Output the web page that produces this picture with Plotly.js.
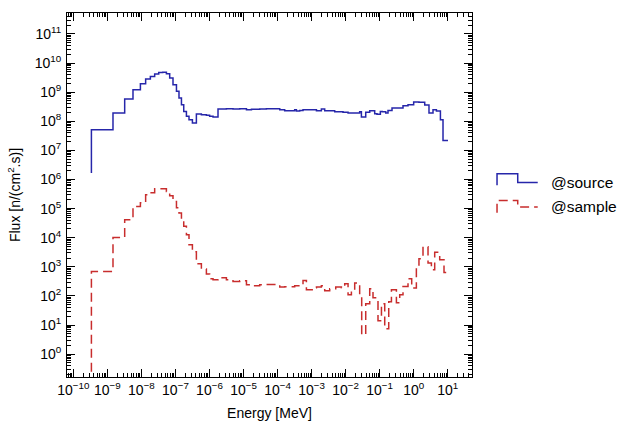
<!DOCTYPE html>
<html>
<head>
<meta charset="utf-8">
<script src="https://cdn.plot.ly/plotly-3.0.1.min.js"></script>
<style>html,body{margin:0;padding:0;background:#fff;}#chart{width:624px;height:423px;}</style>
</head>
<body>
<div id="chart"></div>
<script>
// Bin edges (MeV) and flux values (n/(cm^2.s)) per bin
const sourceEdges = [3.39e-10, 1.46e-9, 3.22e-9, 5.65e-9, 9.33e-9, 1.33e-8, 1.83e-8, 2.45e-8, 3.22e-8, 4.22e-8,
  5.42e-8, 6.77e-8, 8.47e-8, 1.07e-7, 1.27e-7, 1.50e-7, 1.75e-7, 2.10e-7, 2.50e-7, 3.15e-7,
  4.12e-7, 5.78e-7, 8.11e-7, 1.01e-6, 1.27e-6, 1.78e-6, 3.14e-6, 4.91e-6, 7.72e-6, 1.22e-5,
  1.71e-5, 2.99e-5, 4.70e-5, 1.16e-4, 1.62e-4, 3.19e-4, 3.58e-4, 4.48e-4, 5.60e-4, 1.39e-3,
  1.94e-3, 2.43e-3, 4.78e-3, 8.38e-3, 1.18e-2, 2.59e-2, 2.91e-2, 3.90e-2, 5.11e-2, 7.16e-2,
  8.37e-2, 0.105, 0.120, 0.151, 0.176, 0.231, 0.486, 0.682, 1.00, 1.43,
  2.11, 2.82, 3.70, 4.66, 6.11, 7.28, 10.2];
const sourceFlux = [5.15e7, 1.93e8, 5.84e8, 1.22e9, 1.96e9, 2.84e9, 3.49e9, 4.22e9, 4.79e9, 4.85e9,
  4.32e9, 3.08e9, 1.81e9, 1.07e9, 6.32e8, 3.72e8, 2.19e8, 1.48e8, 1.14e8, 8.75e7,
  1.78e8, 1.69e8, 1.60e8, 1.48e8, 1.41e8, 2.65e8, 2.71e8, 2.65e8, 2.71e8, 2.51e8,
  2.61e8, 2.65e8, 2.71e8, 2.51e8, 2.32e8, 2.51e8, 2.26e8, 2.37e8, 2.51e8, 2.32e8,
  2.65e8, 2.32e8, 2.14e8, 2.03e8, 1.93e8, 2.14e8, 1.41e8, 2.03e8, 2.32e8, 1.83e8,
  1.73e8, 2.19e8, 2.14e8, 1.93e8, 2.37e8, 2.87e8, 3.44e8, 3.72e8, 4.61e8, 4.47e8,
  3.64e8, 1.93e8, 2.51e8, 2.26e8, 1.14e8, 2.21e7];
const sourceStart = 1.68e6;

const sampleEdges = [3.39e-10, 1.46e-9, 3.22e-9, 5.65e-9, 9.33e-9, 1.33e-8, 1.83e-8, 2.45e-8, 3.22e-8, 4.22e-8,
  5.42e-8, 6.77e-8, 8.47e-8, 1.07e-7, 1.27e-7, 1.50e-7, 1.75e-7, 2.10e-7, 2.50e-7, 3.15e-7,
  4.12e-7, 5.78e-7, 8.11e-7, 1.01e-6, 1.27e-6, 1.78e-6, 3.14e-6, 4.91e-6, 7.72e-6, 1.22e-5,
  1.71e-5, 2.99e-5, 4.70e-5, 1.16e-4, 1.62e-4, 3.19e-4, 5.60e-4, 7.05e-4, 1.10e-3, 1.39e-3,
  1.94e-3, 2.43e-3, 3.41e-3, 5.12e-3, 7.52e-3, 9.41e-3, 1.18e-2, 1.48e-2, 1.85e-2, 2.59e-2,
  2.97e-2, 3.90e-2, 5.11e-2, 6.38e-2, 8.95e-2, 0.113, 0.141, 0.185, 0.222, 0.311,
  0.389, 0.486, 0.682, 0.875, 1.20, 1.43, 1.88, 2.64, 3.32, 4.15,
  5.82, 7.79, 10.2];
const sampleFlux = [699, 1.03e4, 4.17e4, 1.19e5, 1.60e5, 3.01e5, 3.53e5, 4.84e5, 4.84e5, 4.84e5,
  3.91e5, 2.79e5, 1.77e5, 1.08e5, 7.09e4, 4.17e4, 2.46e4, 1.27e4, 5.77e3, 3.32e3,
  1.28e3, 845, 569, 392, 362, 425, 362, 317, 335, 244,
  225, 244, 250, 203, 208, 225, 343, 164, 192, 203,
  225, 152, 178, 203, 192, 264, 111, 164, 279, 111,
  4.68, 54.3, 178, 87.3, 14.2, 54.3, 7.52, 63.6, 164, 58.8,
  111, 213, 392, 188, 915, 1.91e3, 4.93e3, 1.36e3, 800, 3.19e3,
  1.76e3, 646];
const sampleStart = 0.25;

const xTickVals = [1e-10, 1e-9, 1e-8, 1e-7, 1e-6, 1e-5, 1e-4, 1e-3, 1e-2, 1e-1, 1e0, 1e1];
const xTickText = ["10<sup>\u221210</sup>", "10<sup>\u22129</sup>", "10<sup>\u22128</sup>", "10<sup>\u22127</sup>",
  "10<sup>\u22126</sup>", "10<sup>\u22125</sup>", "10<sup>\u22124</sup>", "10<sup>\u22123</sup>",
  "10<sup>\u22122</sup>", "10<sup>\u22121</sup>", "10<sup>0</sup>", "10<sup>1</sup>"];
const yTickVals = [1e0, 1e1, 1e2, 1e3, 1e4, 1e5, 1e6, 1e7, 1e8, 1e9, 1e10, 1e11];
const yTickText = ["10<sup>0</sup>", "10<sup>1</sup>", "10<sup>2</sup>", "10<sup>3</sup>", "10<sup>4</sup>",
  "10<sup>5</sup>", "10<sup>6</sup>", "10<sup>7</sup>", "10<sup>8</sup>", "10<sup>9</sup>",
  "10<sup>10</sup>", "10<sup>11</sup>"];

function stepXY(edges, vals, start) {
  const x = [edges[0]], y = [start];
  for (let i = 0; i < vals.length; i++) { x.push(edges[i]); y.push(vals[i]); }
  x.push(edges[edges.length - 1]); y.push(vals[vals.length - 1]);
  return {x, y};
}
function minorTicks(lo, hi) {
  const out = [];
  for (let d = lo; d <= hi; d++) for (let m = 2; m <= 9; m++) out.push(m * Math.pow(10, d));
  return out;
}

const s = stepXY(sourceEdges, sourceFlux, sourceStart);
const r = stepXY(sampleEdges, sampleFlux, sampleStart);
const blue = 'rgb(38,38,170)';
const red = 'rgb(200,45,45)';
const font = 'Liberation Sans, Arial, Helvetica, sans-serif';

const traces = [
  {x: s.x, y: s.y, type: 'scatter', mode: 'lines', name: '@source',
   line: {shape: 'hv', color: blue, width: 1.5}, showlegend: false},
  {x: r.x, y: r.y, type: 'scatter', mode: 'lines', name: '@sample',
   line: {shape: 'hv', color: red, width: 1.5, dash: '9px,5px'}, showlegend: false}
];

const axisCommon = {
  type: 'log', ticks: 'inside', ticklen: 8, tickwidth: 1, tickcolor: '#000',
  showline: true, linecolor: '#000', linewidth: 1, mirror: 'allticks',
  showgrid: false, zeroline: false, tickmode: 'array',
  tickfont: {family: font, size: 14, color: '#000'}
};

const layout = {
  width: 624, height: 423,
  margin: {l: 67, r: 152, t: 13, b: 46, autoexpand: false},
  paper_bgcolor: '#fff', plot_bgcolor: '#fff',
  font: {family: font, color: '#000'},
  xaxis: Object.assign({}, axisCommon, {
    range: [-10.187, 1.714], tickvals: xTickVals, ticktext: xTickText,
    minor: {tickvals: minorTicks(-11, 1), ticks: 'inside', ticklen: 4, tickcolor: '#000', tickwidth: 1, showgrid: false},
    title: {text: 'Energy [MeV]', font: {family: font, size: 14}, standoff: 11}
  }),
  yaxis: Object.assign({}, axisCommon, {
    range: [-0.783, 11.72], tickvals: yTickVals, ticktext: yTickText,
    ticklabelstandoff: 2,
    minor: {tickvals: minorTicks(-1, 11), ticks: 'inside', ticklen: 4, tickcolor: '#000', tickwidth: 1, showgrid: false},
    title: {text: 'Flux [n/(cm<sup>2</sup>.s)]', font: {family: font, size: 14}, standoff: 10}
  }),
  shapes: [
    {type: 'path', xref: 'paper', yref: 'paper',
     path: 'M 1.0618 0.5269 L 1.0618 0.5585 L 1.1129 0.5585 L 1.1129 0.5346 L 1.1623 0.5346',
     line: {color: blue, width: 1.5}},
    {type: 'path', xref: 'paper', yref: 'paper',
     path: 'M 1.0618 0.4514 L 1.0618 0.4852 L 1.1129 0.4852 L 1.1129 0.4670 L 1.1623 0.4670',
     line: {color: red, width: 1.5, dash: '9px,5px'}}
  ],
  annotations: [
    {text: '@source', xref: 'paper', yref: 'paper', x: 1.19, y: 0.533, xanchor: 'left', yanchor: 'middle',
     showarrow: false, font: {family: font, size: 15.5, color: '#000'}},
    {text: '@sample', xref: 'paper', yref: 'paper', x: 1.19, y: 0.4687, xanchor: 'left', yanchor: 'middle',
     showarrow: false, font: {family: font, size: 15.5, color: '#000'}}
  ]
};

Plotly.newPlot('chart', traces, layout, {displayModeBar: false, staticPlot: true});
</script>
</body>
</html>
